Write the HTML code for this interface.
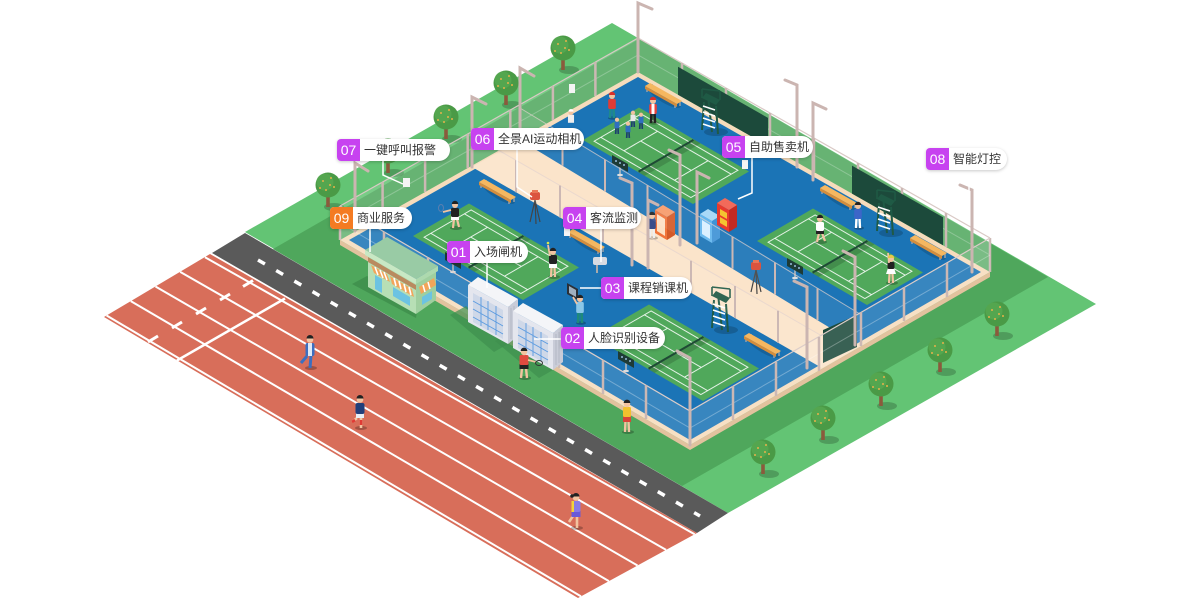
<!DOCTYPE html>
<html><head><meta charset="utf-8">
<style>
html,body{margin:0;padding:0;background:#fff;}
#wrap{position:relative;width:1200px;height:601px;overflow:hidden;background:#fff;}
svg{position:absolute;left:0;top:0;}
.lab{position:absolute;height:22px;background:#fff;border-radius:4px 11px 11px 4px;box-shadow:0 1px 3px rgba(0,0,0,.22);font:12px "Liberation Sans","Noto Sans CJK SC",sans-serif;color:#333;line-height:22px;white-space:nowrap;box-sizing:border-box;}
.lab b{position:absolute;left:0;top:0;width:23px;height:22px;background:#c742f0;color:#fff;font-weight:normal;font-size:14px;line-height:22px;text-align:center;border-radius:4px 0 0 4px;font-family:"Liberation Sans",sans-serif;}
.lab span{position:absolute;left:27px;top:0;}
.lab.o b{background:#f47b22;}
</style></head>
<body><div id="wrap">
<svg width="1200" height="601" viewBox="0 0 1200 601" xmlns="http://www.w3.org/2000/svg">
<defs>
<g id="tr">
<ellipse cx="6" cy="0" rx="10" ry="4" fill="#000" opacity=".2"/>
<rect x="-1.8" y="-15" width="3.6" height="15" fill="#8b5a3c"/>
<circle cx="0" cy="-22" r="12.5" fill="#4a9a46"/>
<circle cx="-3" cy="-25" r="8.5" fill="#59ab52" opacity=".7"/>
<circle cx="-5" cy="-26" r="1" fill="#e6b24a"/><circle cx="3" cy="-29" r="1" fill="#e6b24a"/>
<circle cx="6" cy="-20" r="1" fill="#e6b24a"/><circle cx="-2" cy="-17" r="1" fill="#e6b24a"/>
<circle cx="-8" cy="-19" r="1" fill="#e6b24a"/><circle cx="2" cy="-22" r="1" fill="#e6b24a"/>
</g>
<g id="court">
<rect x="0" y="0" width="100" height="100" fill="#50a85b"/>
<g fill="none" stroke="#fff" stroke-opacity=".85" stroke-width="1" vector-effect="non-scaling-stroke">
<rect x="6" y="8" width="88" height="84" vector-effect="non-scaling-stroke"/>
<path d="M6,20 H94 M6,80 H94 M27,20 V80 M73,20 V80 M27,50 H73" vector-effect="non-scaling-stroke"/>
</g>
<rect x="50" y="0" width="6" height="100" fill="#000" opacity=".16"/>
<path d="M50,1 V99" stroke="#1f4a35" stroke-width="2" vector-effect="non-scaling-stroke"/>
</g>
<g id="bench">
<ellipse cx="4" cy="3" rx="18" ry="5" fill="#000" opacity=".15" transform="rotate(30 4 3)"/>
<path d="M-14,-8 V-3 M14,8 V13 M-9,-11 V-6 M19,6 V11" stroke="#9aa0a8" stroke-width="1.5"/>
<polygon points="-16,-9 16,9 16,12 -16,-6" fill="#d48d3c"/>
<polygon points="-16,-9 16,9 21,6 -11,-12" fill="#f5b760"/>
</g>
<g id="sb">
<path d="M0,0 V-8" stroke="#bbb" stroke-width="1.5"/>
<ellipse cx="0" cy="0" rx="3" ry="1.2" fill="#ddd"/>
<polygon points="-8,-20 8,-11 8,-3 -8,-12" fill="#1e3b36"/>
<circle cx="-4" cy="-14" r="1" fill="#9bd"/><circle cx="0" cy="-12" r="1" fill="#9bd"/><circle cx="4" cy="-10" r="1" fill="#9bd"/>
</g>
<g id="chair">
<ellipse cx="6" cy="0" rx="12" ry="4" fill="#000" opacity=".18"/>
<path d="M-8,-2 L-6,-30 M8,2 L6,-26 M-2,-36 L2,0" stroke="#1f5a45" stroke-width="2"/>
<path d="M-7,-8 L5,-4 M-7,-14 L5,-10 M-7,-20 L5,-16 M-7,-26 L5,-22" stroke="#fff" stroke-width="1.6"/>
<polygon points="-8,-34 6,-27 10,-32 -4,-39" fill="#1f5a45"/>
<path d="M-8,-34 V-43 M10,-32 V-41 M-8,-43 L10,-41" stroke="#1f5a45" stroke-width="1.6" fill="none"/>
</g>
<g id="cam">
<path d="M0,0 L-5,22 M0,0 L5,22 M0,0 L1,24" stroke="#444" stroke-width="1.2"/>
<rect x="-5" y="-8" width="10" height="8" rx="2" fill="#d8452f"/>
<rect x="-3" y="-10" width="6" height="3" fill="#e86a48"/>
</g>
<g id="gate">
<polygon points="468,285 508,307 508,344 468,322" fill="#e4e6ee"/>
<polygon points="473,293 503,310 503,339 473,322" fill="#cfd8e8"/>
<path d="M473,301 L503,318 M473,309 L503,326 M473,317 L503,334 M481,297 V326 M488,301 V330 M496,306 V335" stroke="#5b9be0" stroke-width=".9"/>
<polygon points="508,307 518,299 518,336 508,344" fill="#c9ccd8"/>
<path d="M511,308 V339 M514,306 V337" stroke="#b3b7c4" stroke-width="1"/>
<polygon points="468,285 478,277 518,299 508,307" fill="#f4f5f8"/>
</g>
</defs>

<!-- ground -->
<polygon points="612,23 1096,304 728,513 245,232" fill="#63c474"/>
<polygon points="273,249 639,39 1048,277 682,486" fill="#4fa75c"/>
<!-- road -->
<polygon points="245,233 728,513 697,533 212,253" fill="#5a5a5a"/>
<line x1="258" y1="260" x2="700" y2="516" stroke="#fff" stroke-width="3.5" stroke-dasharray="8 13"/>
<!-- track -->
<polygon points="210,254 697,533 578,598 104,317" fill="#d86e5a"/>
<g stroke="#fff" stroke-width="2">
<line x1="205" y1="257.2" x2="694.6" y2="534.3"/>
<line x1="180.2" y1="271.9" x2="666.1" y2="549.9"/>
<line x1="155.5" y1="286.5" x2="637.5" y2="565.5"/>
<line x1="130.8" y1="301.1" x2="608.9" y2="581.1"/>
<line x1="106.6" y1="315.5" x2="581" y2="596.4"/>
<line x1="285" y1="298.5" x2="177" y2="360.5" stroke-width="2.5"/>
<line x1="253" y1="280.5" x2="243" y2="286.5" stroke-width="3"/>
<line x1="230" y1="294" x2="220" y2="300" stroke-width="3"/>
<line x1="206" y1="308" x2="196" y2="314" stroke-width="3"/>
<line x1="182" y1="322" x2="172" y2="328" stroke-width="3"/>
<line x1="158" y1="336" x2="148" y2="342" stroke-width="3"/>
</g>

<!-- back trees -->
<use href="#tr" x="563" y="70"/>
<use href="#tr" x="506" y="105"/>
<use href="#tr" x="446" y="139"/>
<use href="#tr" x="388" y="173"/>
<use href="#tr" x="328" y="207"/>

<!-- platform -->
<polygon points="340,240 690,445 990,272 990,277 690,450 340,245" fill="#e2c29e"/>
<polygon points="340,240 638,72 990,272 690,445" fill="#f6dcbc"/>
<polygon points="349,240 638,77 981,272 690,440" fill="#1b74b6"/>

<!-- back fences -->
<g>
<polygon points="340,240 638,72 638,38 340,206" fill="#fff" opacity=".14"/>
<polygon points="638,72 990,272 990,238 638,38" fill="#fff" opacity=".14"/>
<path d="M340,206 L638,38 L990,238" stroke="#d9c9c5" stroke-width="1.2" fill="none"/>
<path d="M340,223 L638,55 L990,255" stroke="#fff" stroke-opacity=".25" stroke-width="1" fill="none"/>
<g stroke="#ccb8b4" stroke-width="2.5">
<path d="M382.6,216 v-34 M425.1,192 v-34 M467.7,168 v-34 M510.3,144 v-34 M552.9,120 v-34 M595.4,96 v-34"/>
<path d="M682,97 v-34 M726,122 v-34 M770,147 v-34 M814,172 v-34 M858,197 v-34 M902,222 v-34 M946,247 v-34 M990,272 v-34 M340,240 v-34"/>
</g>
<rect x="403" y="178" width="7" height="9" fill="#f4f4f4"/>
<rect x="569" y="84" width="6" height="9" fill="#f4f4f4"/>
</g>
<!-- windscreens back -->
<polygon points="678,94.7 768,145.9 768,117.9 678,66.7" fill="#1c4a3b"/>
<polygon points="852,193.6 943,245.3 943,217.3 852,165.6" fill="#1c4a3b"/>

<!-- walkway -->
<polygon points="472,167 520,140 860,346 822,368" fill="#fbe4ca"/>

<!-- courts -->
<use href="#court" transform="matrix(1.10,0.64,0.56,-0.325,583,140)"/>
<use href="#court" transform="matrix(1.10,0.64,0.56,-0.325,757,241)"/>
<use href="#court" transform="matrix(1.10,0.64,0.56,-0.325,413,236)"/>
<use href="#court" transform="matrix(1.10,0.64,0.56,-0.325,593,337)"/>

<!-- benches -->
<use href="#bench" x="495" y="191"/>
<use href="#bench" x="584" y="241"/>
<use href="#bench" x="661" y="95"/>
<use href="#bench" x="836" y="197"/>
<use href="#bench" x="926" y="247"/>
<use href="#bench" x="760" y="345"/>

<!-- scoreboards -->
<use href="#sb" x="620" y="175"/>
<use href="#sb" x="795" y="278"/>
<use href="#sb" x="626" y="371"/>
<use href="#sb" x="453" y="272"/>

<!-- umpire chairs -->
<use href="#chair" x="710" y="132"/>
<use href="#chair" x="885" y="233"/>
<use href="#chair" x="720" y="330"/>

<!-- cameras -->
<use href="#cam" x="535" y="200"/>
<use href="#cam" x="756" y="270"/>

<!-- vending -->
<polygon points="655,210 667,217 667,240 655,233" fill="#f0743a"/>
<polygon points="657,214 665,219 665,236 657,231" fill="#fde0c4"/>
<polygon points="667,217 675,212 675,235 667,240" fill="#d35a28"/>
<polygon points="655,210 663,205 675,212 667,217" fill="#f79b6a"/>
<polygon points="700,214 712,221 712,243 700,236" fill="#62b6ee"/>
<polygon points="702,220 710,225 710,239 702,234" fill="#d8efff"/>
<polygon points="712,221 720,216 720,238 712,243" fill="#3f93d6"/>
<polygon points="700,214 708,209 720,216 712,221" fill="#a9d9f7"/>
<polygon points="717,203 729,210 729,232 717,225" fill="#e83a2e"/>
<polygon points="720,209 727,213 727,219 720,215" fill="#f4c430"/>
<polygon points="720,217 727,221 727,227 720,223" fill="#f4c430"/>
<polygon points="729,210 737,205 737,227 729,232" fill="#c22a22"/>
<polygon points="717,203 725,198 737,205 729,210" fill="#f26a5a"/>

<!-- devices -->
<rect x="593" y="257" width="14" height="8" rx="2" fill="#d7dbe2"/>
<rect x="596" y="265" width="2" height="8" fill="#aaa"/>
<polygon points="567,283 578,289 578,300 567,294" fill="#2b2f36"/>
<polygon points="569,286 576,290 576,297 569,293" fill="#9fb0c0"/>

<!-- people on courts -->
<g transform="translate(612,118)"><ellipse cx="1" rx="5" ry="1.8" fill="#000" opacity=".25"/><path d="M-2,0 L-1.5,-10 M2,0 L1.5,-10" stroke="#1f8a8a" stroke-width="2.6"/><rect x="-3.8" y="-19" width="7.6" height="10" rx="1.5" fill="#e03b35"/><circle cy="-22" r="3" fill="#f2c3a0"/><path d="M-3.2,-23 a3.2,3.2 0 0 1 6.4,0z" fill="#d9302a"/></g>
<g transform="translate(653,123)"><ellipse cx="1" rx="5" ry="1.8" fill="#000" opacity=".25"/><path d="M-2,0 L-1.5,-10 M2,0 L1.5,-10" stroke="#222" stroke-width="2.6"/><rect x="-3.8" y="-19" width="7.6" height="10" rx="1.5" fill="#e8413a"/><rect x="-1.5" y="-19" width="3" height="10" fill="#fff"/><circle cy="-22" r="3" fill="#f2c3a0"/><path d="M-3.2,-23 a3.2,3.2 0 0 1 6.4,0z" fill="#d9302a"/></g>
<g transform="translate(617,134) scale(.65)"><path d="M-2,0 L-1.5,-10 M2,0 L1.5,-10" stroke="#1b3f6e" stroke-width="2.6"/><rect x="-3.8" y="-19" width="7.6" height="10" fill="#2f6fc0"/><circle cy="-22" r="3.2" fill="#f2c3a0"/></g>
<g transform="translate(628,138) scale(.65)"><path d="M-2,0 L-1.5,-10 M2,0 L1.5,-10" stroke="#1b3f6e" stroke-width="2.6"/><rect x="-3.8" y="-19" width="7.6" height="10" fill="#2f6fc0"/><circle cy="-22" r="3.2" fill="#f2c3a0"/></g>
<g transform="translate(633,127) scale(.65)"><path d="M-2,0 L-1.5,-10 M2,0 L1.5,-10" stroke="#1b3f6e" stroke-width="2.6"/><rect x="-3.8" y="-19" width="7.6" height="10" fill="#e8e8e8"/><circle cy="-22" r="3.2" fill="#f2c3a0"/></g>
<g transform="translate(641,129) scale(.65)"><path d="M-2,0 L-1.5,-10 M2,0 L1.5,-10" stroke="#1b3f6e" stroke-width="2.6"/><rect x="-3.8" y="-19" width="7.6" height="10" fill="#2f6fc0"/><circle cy="-22" r="3.2" fill="#f2c3a0"/></g>
<g transform="translate(571,130) scale(.8)"><rect x="-3.8" y="-19" width="7.6" height="10" fill="#eee"/><circle cy="-22" r="3.2" fill="#f2c3a0"/><path d="M-3.2,-23 a3.2,3.2 0 0 1 6.4,0z" fill="#fff"/></g>
<g transform="translate(455,228)"><ellipse cx="1" rx="6" ry="2" fill="#000" opacity=".25"/><path d="M-2,0 L-1,-9 M4,-1 L2,-9" stroke="#f2c3a0" stroke-width="2.2"/><rect x="-4" y="-12" width="8" height="4" fill="#fff"/><rect x="-4" y="-20" width="8" height="9" rx="1.5" fill="#222"/><path d="M-4,-18 L-12,-16" stroke="#f2c3a0" stroke-width="1.8"/><ellipse cx="-14" cy="-20" rx="2.5" ry="3.5" fill="none" stroke="#5a7fb0" stroke-width="1"/><circle cy="-23" r="3" fill="#f2c3a0"/><path d="M-3.2,-24 a3.2,3.2 0 0 1 6.4,0z" fill="#222"/></g>
<g transform="translate(553,277)"><ellipse cx="1" rx="6" ry="2" fill="#000" opacity=".25"/><path d="M-2,0 L-1.5,-10 M2,0 L1.5,-10" stroke="#f2c3a0" stroke-width="2.2"/><rect x="-4" y="-14" width="8" height="5" fill="#fff"/><rect x="-4" y="-22" width="8" height="9" rx="1.5" fill="#222"/><path d="M-3,-21 L-5,-32" stroke="#f2c3a0" stroke-width="1.8"/><circle cx="-5" cy="-34" r="1.3" fill="#d9e84a"/><circle cy="-25" r="3" fill="#f2c3a0"/><path d="M-3.2,-26 a3.2,3.2 0 0 1 6.4,0z" fill="#222"/></g>
<g transform="translate(820,242)"><ellipse cx="1" rx="6" ry="2" fill="#000" opacity=".25"/><path d="M-3,0 L-1,-9 M5,-1 L2,-9" stroke="#f2c3a0" stroke-width="2.2"/><rect x="-4" y="-12" width="8" height="4" fill="#222"/><rect x="-4" y="-20" width="8" height="9" rx="1.5" fill="#fff"/><circle cy="-23" r="3" fill="#f2c3a0"/><path d="M-3.2,-24 a3.2,3.2 0 0 1 6.4,0z" fill="#222"/></g>
<g transform="translate(858,228)"><ellipse cx="1" rx="5" ry="1.8" fill="#000" opacity=".25"/><path d="M-2,0 L-1.5,-10 M2,0 L1.5,-10" stroke="#fff" stroke-width="2.4"/><rect x="-3.8" y="-19" width="7.6" height="10" rx="1.5" fill="#3c66c8"/><circle cy="-22" r="3" fill="#f2c3a0"/><path d="M-3.2,-23 a3.2,3.2 0 0 1 6.4,0z" fill="#222"/></g>
<g transform="translate(891,283)"><ellipse cx="1" rx="6" ry="2" fill="#000" opacity=".25"/><path d="M-2,0 L-1.5,-9 M2,0 L1.5,-9" stroke="#f2c3a0" stroke-width="2.2"/><polygon points="-5,-9 5,-9 3,-15 -3,-15" fill="#fff"/><rect x="-3.5" y="-21" width="7" height="7" rx="1.5" fill="#222"/><path d="M-2,-20 L-3,-30" stroke="#f2c3a0" stroke-width="1.8"/><circle cy="-24" r="3" fill="#f2c3a0"/><path d="M-3.2,-25 a3.2,3.2 0 0 1 6.4,0z" fill="#e8c84a"/></g>
<g transform="translate(652,238)"><ellipse cx="1" rx="5" ry="1.8" fill="#000" opacity=".25"/><path d="M-2,0 L-1.5,-10 M2,0 L1.5,-10" stroke="#eee" stroke-width="2.4"/><rect x="-3.8" y="-19" width="7.6" height="10" rx="1.5" fill="#3a4d8a"/><circle cy="-22" r="3" fill="#f2c3a0"/><path d="M-3.2,-23 a3.2,3.2 0 0 1 6.4,0z" fill="#222"/></g>
<g transform="translate(580,323)"><ellipse cx="1" rx="5" ry="1.8" fill="#000" opacity=".25"/><path d="M-2,0 L-1.5,-11 M2,0 L1.5,-11" stroke="#1f8a7a" stroke-width="2.6"/><rect x="-3.8" y="-21" width="7.6" height="11" rx="1.5" fill="#8cc7e8"/><path d="M-3,-19 L-7,-26" stroke="#f2c3a0" stroke-width="1.8"/><circle cy="-24" r="3" fill="#f2c3a0"/><path d="M-3.2,-25 a3.2,3.2 0 0 1 6.4,0z" fill="#222"/></g>

<!-- interior walkway fences -->
<g>
<polygon points="472,167 822,368 822,336 472,135" fill="#fff" opacity=".08"/>
<polygon points="520,140 860,346 860,314 520,108" fill="#fff" opacity=".08"/>
<path d="M472,135 L822,336 M520,108 L860,314" stroke="#e2d3cf" stroke-opacity=".7" stroke-width="1" fill="none"/>
<g stroke="#ccb8b4" stroke-width="2">
<path d="M516,192.3 v-32 M560,217.5 v-32 M603,242.2 v-32 M691,292.8 v-32 M735,318 v-32 M778,342.7 v-32"/>
<path d="M562.5,165.8 v-32 M605,191.5 v-32 M647.5,217.3 v-32 M732.5,268.8 v-32 M775,294.5 v-32 M817.5,320.3 v-32"/>
</g>
<rect x="564" y="228" width="6" height="8" fill="#f4f4f4"/>
<rect x="742" y="160" width="6" height="9" fill="#f4f4f4"/>
</g>
<!-- end windscreen -->
<polygon points="823,330 857,315 857,347 823,363" fill="#1c4a3b"/>

<!-- front fences -->
<g>
<polygon points="990,272 690,445 690,411 990,238" fill="#fff" opacity=".13"/>
<polygon points="690,445 340,240 340,206 690,411" fill="#fff" opacity=".13"/>
<path d="M990,238 L690,411 L340,206" stroke="#dccdc9" stroke-width="1.2" fill="none"/>
<path d="M990,255 L690,428 L340,223" stroke="#fff" stroke-opacity=".3" stroke-width="1" fill="none"/>
<g stroke="#ccb8b4" stroke-width="2.5">
<path d="M947,297 v-34 M904,321 v-34 M861,346 v-34 M819,371 v-34 M776,396 v-34 M733,420 v-34 M690,445 v-34"/>
<path d="M646,419 v-34 M603,394 v-34 M559,368 v-34 M515,343 v-34 M471,317 v-34 M428,291 v-34 M384,266 v-34"/>
</g>
</g>

<!-- lamp posts -->
<g stroke="#cbb5b1" stroke-width="3" stroke-linecap="round" fill="none">
<path d="M638,72 V3 L652,9"/>
<path d="M472,167 V97 L486,104"/>
<path d="M520,138 V68 L534,76"/>
<path d="M355,231 V163 L368,171"/>
<path d="M680,245 V155 L669,150"/>
<path d="M697,243 V172 L709,178"/>
<path d="M632,265 V183 L620,178"/>
<path d="M648,268 V200 L658,205"/>
<path d="M807,368 V287 L794,281"/>
<path d="M855,345 V257 L843,251"/>
<path d="M690,445 V358 L677,351"/>
<path d="M797,167 V85 L785,80"/>
<path d="M813,180 V103 L826,109"/>
<path d="M972,272 V190 L960,185"/>
</g>

<!-- shop -->
<polygon points="352,284 367,276 418,305 416,318" fill="#3d8d4b" opacity=".8"/>
<polygon points="368,254 416,282 416,314 368,287" fill="#b7dfb5"/>
<polygon points="416,282 436,270 436,300 416,314" fill="#9fcf9f"/>
<polygon points="368,257 416,285 416,290 368,262" fill="#b98a5f"/>
<polygon points="365,250 387,237 438,266 416,279" fill="#99cba5"/>
<polygon points="365,250 416,279 416,284 365,255" fill="#c8e8c4"/>
<polygon points="416,279 438,266 438,271 416,284" fill="#add9ae"/>
<polygon points="371,265 387,274 390,282 374,273" fill="#f2a55a"/>
<path d="M375,267 L378,275 M380,270 L383,278 M384,272 L387,280" stroke="#fff" stroke-width="1.5"/>
<polygon points="390,276 412,289 414,297 392,284" fill="#f2a55a"/>
<path d="M394,278 L396,286 M399,281 L401,289 M404,284 L406,292 M409,287 L411,295" stroke="#fff" stroke-width="1.6"/>
<polygon points="419,287 434,278 436,285 421,294" fill="#f2a55a"/>
<path d="M423,285 L425,292 M428,282 L430,289" stroke="#fff" stroke-width="1.5"/>
<polygon points="375,275 382,279 382,293 375,289" fill="#6cc3e2"/>
<polygon points="393,287 410,297 410,306 393,296" fill="#6cc3e2"/>
<polygon points="422,297 432,291 432,299 422,305" fill="#6cc3e2"/>

<!-- gates -->
<polygon points="450,315 466,306 508,344 494,352" fill="#3f8f4e" opacity=".7"/>
<polygon points="495,341 511,332 553,370 539,378" fill="#3f8f4e" opacity=".7"/>
<use href="#gate"/>
<use href="#gate" transform="translate(45,26)"/>

<!-- front people -->
<g transform="translate(524,378)"><ellipse cx="1" rx="6" ry="2" fill="#000" opacity=".25"/><path d="M-3,0 L-2,-10 M3,0 L2,-10" stroke="#f2c3a0" stroke-width="2.4"/><rect x="-4.5" y="-14" width="9" height="5" fill="#222"/><rect x="-4.5" y="-23" width="9" height="10" rx="1.5" fill="#e04a3f"/><path d="M4,-18 L12,-16" stroke="#f2c3a0" stroke-width="1.8"/><ellipse cx="15" cy="-15" rx="3.5" ry="2.5" fill="none" stroke="#333" stroke-width="1"/><circle cy="-26" r="3.2" fill="#f2c3a0"/><path d="M-3.4,-27 a3.4,3.4 0 0 1 6.8,0z" fill="#222"/></g>
<g transform="translate(627,432)"><ellipse cx="1" rx="6" ry="2" fill="#000" opacity=".25"/><path d="M-2,0 L-1.5,-11 M2,0 L1.5,-11" stroke="#f2c3a0" stroke-width="2.4"/><rect x="-4" y="-16" width="8" height="6" fill="#d8443a"/><rect x="-4" y="-25" width="8" height="10" rx="1.5" fill="#f2c12e"/><circle cy="-28" r="3.2" fill="#f2c3a0"/><path d="M-3.4,-29 a3.4,3.4 0 0 1 6.8,0z" fill="#222"/></g>
<!-- runners -->
<g transform="translate(310,368)"><ellipse cx="1" rx="6" ry="2" fill="#000" opacity=".25"/><path d="M0,0 L1,-12 M-9,-5 L-3,-12" stroke="#3c6fc0" stroke-width="3"/><rect x="-4.5" y="-25" width="9" height="13" rx="2" fill="#3c6fc0"/><rect x="-2" y="-25" width="4" height="13" fill="#dfe8f5"/><circle cy="-28.5" r="3.3" fill="#f2c3a0"/><path d="M-3.5,-29.5 a3.5,3.5 0 0 1 7,0z" fill="#222"/></g>
<g transform="translate(360,428)"><ellipse cx="1" rx="6" ry="2" fill="#000" opacity=".25"/><path d="M1,0 L1,-10 M-8,-6 L-3,-10" stroke="#f2c3a0" stroke-width="2.6"/><path d="M1,-3 L1,-8 M-8,-6 L-5,-8" stroke="#e03a35" stroke-width="2.6"/><rect x="-4" y="-15" width="8" height="5" fill="#e8eef5"/><rect x="-4.5" y="-25" width="9" height="11" rx="2" fill="#233f7a"/><circle cy="-28.5" r="3.3" fill="#f2c3a0"/><path d="M-3.5,-29.5 a3.5,3.5 0 0 1 7,0z" fill="#222"/></g>
<g transform="translate(576,528)"><ellipse cx="1" rx="6" ry="2" fill="#000" opacity=".25"/><path d="M1,0 L1,-12 M-7,-6 L-3,-12" stroke="#f2c3a0" stroke-width="2.6"/><rect x="-4.5" y="-17" width="9" height="6" fill="#6a5ad8"/><rect x="-4.5" y="-27" width="9" height="11" rx="2" fill="#8a7ae6"/><rect x="-4.5" y="-27" width="2.5" height="11" fill="#f2d23a"/><circle cy="-30.5" r="3.3" fill="#f2c3a0"/><path d="M-3.5,-31.5 a3.5,3.5 0 0 1 7,0z" fill="#222"/><circle cx="-4" cy="-32" r="1.8" fill="#222"/></g>

<!-- front trees -->
<use href="#tr" x="997" y="336"/>
<use href="#tr" x="940" y="372"/>
<use href="#tr" x="881" y="406"/>
<use href="#tr" x="823" y="440"/>
<use href="#tr" x="763" y="474"/>

<!-- leader lines -->
<g stroke="#fff" stroke-width="1.5" fill="none">
<path d="M383,161 V175 L403,184"/>
<path d="M517,149 V187 L532,197"/>
<path d="M370,229 V252"/>
<path d="M601,229 V262"/>
<path d="M487,263 V288"/>
<path d="M752,157 V193 L738,199"/>
<path d="M969,170 V192"/>
<path d="M601,288 H580"/>
<path d="M561,339 H534"/>
</g>
</svg>

<div class="lab" style="left:337px;top:139px;width:113px;"><b>07</b><span>一键呼叫报警</span></div>
<div class="lab" style="left:471px;top:128px;width:113px;"><b>06</b><span>全景AI运动相机</span></div>
<div class="lab o" style="left:330px;top:207px;width:82px;"><b>09</b><span>商业服务</span></div>
<div class="lab" style="left:563px;top:207px;width:78px;"><b>04</b><span>客流监测</span></div>
<div class="lab" style="left:447px;top:241px;width:81px;"><b>01</b><span>入场闸机</span></div>
<div class="lab" style="left:722px;top:136px;width:91px;"><b>05</b><span>自助售卖机</span></div>
<div class="lab" style="left:926px;top:148px;width:81px;"><b>08</b><span>智能灯控</span></div>
<div class="lab" style="left:601px;top:277px;width:91px;"><b>03</b><span>课程销课机</span></div>
<div class="lab" style="left:561px;top:327px;width:104px;"><b>02</b><span>人脸识别设备</span></div>
</div></body></html>
